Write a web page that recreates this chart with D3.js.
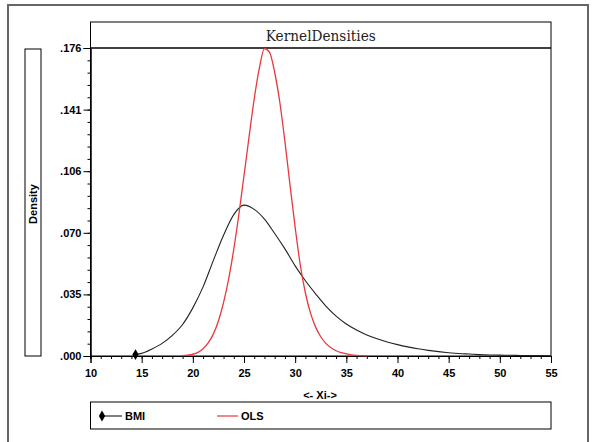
<!DOCTYPE html>
<html><head><meta charset="utf-8">
<script src="https://cdn.jsdelivr.net/npm/d3@7"></script>
<style>
html,body{margin:0;padding:0;background:#fff;}
svg{display:block;}
.tk{font-family:"Liberation Sans",Arial,sans-serif;font-weight:bold;font-size:11px;fill:#000;}
</style></head>
<body>
<script>
// ---- data ----
const bmiX = [14.4,15,16,17,18,19,20,21,22,23,24,25,26,27,28,29,30,31,32,33,34,35,36,37,38,39,40,41,42,43,44,45,46,47,48,49,50,51,52,53,54,55];
const bmiY = [0.0008,0.0015,0.0040,0.0072,0.0118,0.0180,0.0275,0.0395,0.0545,0.0690,0.0808,0.0862,0.0838,0.0782,0.0700,0.0612,0.0515,0.0430,0.0355,0.0285,0.0228,0.0183,0.0148,0.0120,0.0098,0.0080,0.0065,0.0052,0.0041,0.0032,0.0025,0.0019,0.0014,0.0011,0.0008,0.0006,0.0005,0.0004,0.0003,0.0002,0.0002,0.0001];
const olsX = [19,19.5,20,20.5,21,21.5,22,22.5,23,23.5,24,24.5,25,25.5,26,26.5,27,27.5,28,28.5,29,29.5,30,30.5,31,31.5,32,32.5,33,33.5,34,34.5,35,35.5,36,36.5,37];
const olsY = [0.0002,0.0005,0.0010,0.0021,0.0042,0.0075,0.0125,0.0200,0.0305,0.0440,0.0610,0.0810,0.1030,0.1255,0.1470,0.1645,0.1757,0.1735,0.1620,0.1450,0.1225,0.0975,0.0735,0.0520,0.0360,0.0245,0.0165,0.0110,0.0072,0.0047,0.0030,0.0019,0.0012,0.0007,0.0004,0.0002,0.0001];
const xTicks = [10,15,20,25,30,35,40,45,50,55];
const yTicks = [0,0.0352,0.0704,0.1056,0.1408,0.176];
const yTickLabels = [".000",".035",".070",".106",".141",".176"];
const seriesNames = ["BMI","OLS"];
const titleText = "KernelDensities";
const xLabel = "<- Xi->";
const yLabel = "Density";

// ---- layout ----
const W=595,H=442;
const L=90.5,R=551,T=48,B=356,TOP=22;
const svg=d3.select("body").append("svg").attr("width",W).attr("height",H);
const x=d3.scaleLinear().domain([10,55]).range([L,R]);
const y=d3.scaleLinear().domain([0,0.176]).range([B,T]);

// outer frame
svg.append("rect").attr("x",8).attr("y",5).attr("width",580).attr("height",450)
  .attr("fill","none").attr("stroke","#666").attr("stroke-width",2);

// plot frame + title box
svg.append("rect").attr("x",L).attr("y",TOP).attr("width",R-L).attr("height",B-TOP)
  .attr("fill","none").attr("stroke","#000").attr("stroke-width",1);
svg.append("line").attr("x1",L).attr("x2",R).attr("y1",T).attr("y2",T).attr("stroke","#000").attr("stroke-width",1.3);
svg.append("text").attr("x",(L+R)/2).attr("y",41).attr("text-anchor","middle")
  .attr("font-family","'DejaVu Serif','Liberation Serif',serif").attr("font-size",14)
  .attr("textLength",110).attr("lengthAdjust","spacingAndGlyphs").attr("fill","#222").text(titleText);

// x axis
const xMinor=d3.range(10,55.01,1);
const gxm=svg.append("g").attr("transform",`translate(0,${B})`)
  .call(d3.axisBottom(x).tickValues(xMinor).tickSize(3).tickFormat(""));
const gx=svg.append("g").attr("transform",`translate(0,${B})`)
  .call(d3.axisBottom(x).tickValues(xTicks).tickSize(7).tickPadding(6).tickFormat(d3.format("d")));
[gx,gxm].forEach(g=>{g.select(".domain").attr("stroke","#000");g.selectAll("line").attr("stroke","#000");});
gx.selectAll("text").attr("class","tk").attr("font-size",null).attr("font-family",null).attr("fill",null);

// y axis
const yMinor=d3.range(0,36).map(i=>i*0.00704).filter(v=>v<=0.1761);
const gym=svg.append("g").attr("transform",`translate(${L},0)`)
  .call(d3.axisLeft(y).tickValues(yMinor).tickSize(3).tickFormat(""));
const gy=svg.append("g").attr("transform",`translate(${L},0)`)
  .call(d3.axisLeft(y).tickValues(yTicks).tickSize(7).tickPadding(2).tickFormat((d,i)=>yTickLabels[i]));
[gy,gym].forEach(g=>{g.select(".domain").attr("stroke","#000");g.selectAll("line").attr("stroke","#000");});
gy.selectAll("text").attr("class","tk").attr("font-size",null).attr("font-family",null).attr("fill",null);

// y label box
svg.append("rect").attr("x",25).attr("y",49).attr("width",16).attr("height",307)
  .attr("fill","none").attr("stroke","#000").attr("stroke-width",1);
svg.append("text").attr("class","tk").attr("transform","translate(37,204) rotate(-90)")
  .attr("text-anchor","middle").text(yLabel);

// x label
svg.append("text").attr("class","tk").attr("x",320).attr("y",399).attr("text-anchor","middle").text(xLabel);

// curves
const line=d3.line().x(d=>x(d[0])).y(d=>y(d[1])).curve(d3.curveMonotoneX);
const bmi=bmiX.map((v,i)=>[v,bmiY[i]]);
const ols=olsX.map((v,i)=>[v,olsY[i]]);
svg.append("path").datum(bmi).attr("d",line).attr("fill","none").attr("stroke","#222").attr("stroke-width",1.1);
svg.append("path").datum(ols).attr("d",line).attr("fill","none").attr("stroke","#e8383c").attr("stroke-width",1.3);
const diamond=d3.symbol().type(d3.symbolDiamond).size(34);
svg.append("path").attr("d",diamond).attr("transform",`translate(${x(bmi[0][0])},${y(bmi[0][1])})`).attr("fill","#000");

// legend
svg.append("rect").attr("x",L).attr("y",402).attr("width",R-L).attr("height",27)
  .attr("fill","none").attr("stroke","#000").attr("stroke-width",1);
svg.append("line").attr("x1",101).attr("x2",122).attr("y1",416).attr("y2",416).attr("stroke","#000");
svg.append("path").attr("d",diamond).attr("transform","translate(102,416)").attr("fill","#000");
svg.append("text").attr("class","tk").attr("x",125).attr("y",420).text(seriesNames[0]);
svg.append("line").attr("x1",217).attr("x2",238).attr("y1",416).attr("y2",416).attr("stroke","#e8383c").attr("stroke-width",1.2);
svg.append("text").attr("class","tk").attr("x",241).attr("y",420).text(seriesNames[1]);
</script>
</body></html>
